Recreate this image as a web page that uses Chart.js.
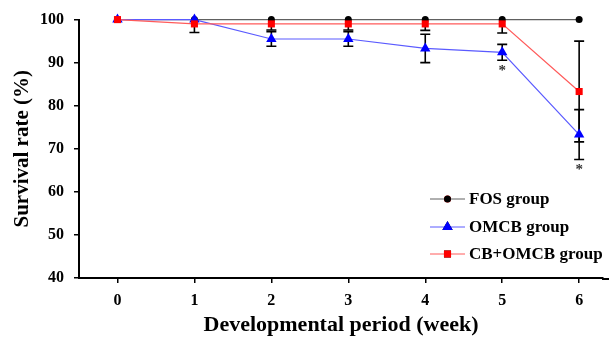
<!DOCTYPE html>
<html>
<head>
<meta charset="utf-8">
<script src="https://cdn.jsdelivr.net/npm/chart.js@4.4.1/dist/chart.umd.min.js"></script>
<style>
  html, body { margin: 0; padding: 0; background: #fff; }
  #wrap { width: 609px; height: 337px; position: relative; }
</style>
</head>
<body>
<div id="wrap"><canvas id="c"></canvas></div>
<script>
// weeks 0..6
var weeks = [0, 1, 2, 3, 4, 5, 6];
var fosVals = [100, 100, 100, 100, 100, 100, 100];
var omcbVals = [100, 100, 95.5, 95.5, 93.3, 92.4, 73.3];
var cbVals = [100, 99, 99, 99, 99, 99, 83.3];
// +/- error (same both ways)
var fosErr = [0, 0, 0, 0, 0, 0, 0];
var omcbErr = [0, 0, 1.7, 1.7, 3.3, 1.85, 5.8];
var cbErr = [0, 2, 1.4, 1.4, 1.5, 2.1, 11.7];
// significance marks, drawn under OMCB error bar
var sigWeeks = [5, 6];
var yTicks = [40, 50, 60, 70, 80, 90, 100];

var serif = "'Liberation Serif', 'DejaVu Serif', serif";

function pts(vals) {
  return weeks.map(function (w, i) { return { x: w, y: vals[i] }; });
}

var errBars = {
  id: "errBars",
  beforeDatasetsDraw: function (chart) {
    var ctx = chart.ctx, xs = chart.scales.x, ys = chart.scales.y;
    var a = chart.chartArea;
    ctx.save();
    ctx.beginPath();
    ctx.rect(a.left, a.top, a.right - a.left, a.bottom - a.top);
    ctx.clip();
    ctx.strokeStyle = "#000";
    ctx.lineWidth = 1.6;
    chart.data.datasets.forEach(function (ds) {
      ds.data.forEach(function (p, i) {
        var e = ds.err[i];
        if (!e) return;
        var x = xs.getPixelForValue(p.x);
        var y1 = ys.getPixelForValue(p.y + e);
        var y2 = ys.getPixelForValue(p.y - e);
        ctx.beginPath();
        ctx.moveTo(x, y1); ctx.lineTo(x, y2);
        ctx.moveTo(x - 5, y1); ctx.lineTo(x + 5, y1);
        ctx.moveTo(x - 5, y2); ctx.lineTo(x + 5, y2);
        ctx.stroke();
      });
    });
    ctx.restore();
  },
  afterDatasetsDraw: function (chart) {
    var ctx = chart.ctx, xs = chart.scales.x, ys = chart.scales.y;
    ctx.save();
    ctx.fillStyle = "#333";
    ctx.font = "bold 15px " + serif;
    ctx.textAlign = "center";
    ctx.textBaseline = "middle";
    sigWeeks.forEach(function (w) {
      var i = weeks.indexOf(w);
      var y = ys.getPixelForValue(omcbVals[i] - omcbErr[i]) + 11;
      ctx.fillText("*", xs.getPixelForValue(w), y);
    });
    ctx.restore();
  },
  afterDraw: function (chart) {
    // axis line runs off the right edge in the original
    var ctx = chart.ctx, a = chart.chartArea;
    ctx.save();
    ctx.strokeStyle = "#000";
    ctx.lineWidth = 2;
    ctx.beginPath();
    ctx.moveTo(a.right - 1, a.bottom + 1);
    ctx.lineTo(chart.width, a.bottom + 1);
    ctx.stroke();
    ctx.restore();
  }
};

var legendBox = {
  id: "legendBox",
  afterDraw: function (chart) {
    var ctx = chart.ctx;
    var x0 = 430, x1 = 465, tx = 469;
    var rows = [199, 227, 254];
    ctx.save();
    chart.data.datasets.forEach(function (ds, i) {
      var y = rows[i];
      ctx.strokeStyle = ds.borderColor;
      ctx.lineWidth = 1;
      ctx.beginPath();
      ctx.moveTo(x0, y); ctx.lineTo(x1, y);
      ctx.stroke();
      Chart.helpers.drawPoint(ctx, {
        pointStyle: ds.pointStyle,
        radius: ds.pointRadius,
        borderWidth: 0
      }, (x0 + x1) / 2, y);
      ctx.fillStyle = ds.pointBackgroundColor;
      ctx.fill();
      ctx.fillStyle = "#000";
      ctx.font = "bold 17px " + serif;
      ctx.textAlign = "left";
      ctx.textBaseline = "middle";
      ctx.fillText(ds.label, tx, y + 1);
    });
    ctx.restore();
  }
};

new Chart(document.getElementById("c"), {
  type: "line",
  data: {
    datasets: [
      {
        label: "FOS group",
        data: pts(fosVals),
        err: fosErr,
        borderColor: "#606060",
        borderWidth: 1.2,
        pointStyle: "circle",
        pointRadius: 3.5,
        pointBackgroundColor: "#000",
        pointBorderWidth: 0,
        order: 3
      },
      {
        label: "OMCB group",
        data: pts(omcbVals),
        err: omcbErr,
        borderColor: "#5a5aff",
        borderWidth: 1.2,
        pointStyle: "triangle",
        pointRadius: 6,
        pointBackgroundColor: "#0000ff",
        pointBorderWidth: 0,
        order: 2
      },
      {
        label: "CB+OMCB group",
        data: pts(cbVals),
        err: cbErr,
        borderColor: "#ff5a5a",
        borderWidth: 1.2,
        pointStyle: "rect",
        pointRadius: 5,
        pointBackgroundColor: "#ff0000",
        pointBorderWidth: 0,
        order: 1
      }
    ]
  },
  options: {
    responsive: true,
    maintainAspectRatio: false,
    animation: false,
    events: [],
    clip: false,
    layout: { padding: { top: 19, right: 0, left: 0, bottom: -2 } },
    plugins: { legend: { display: false }, tooltip: { enabled: false } },
    elements: { line: { tension: 0 } },
    scales: {
      x: {
        type: "linear",
        min: -0.5,
        max: 6.31,
        afterBuildTicks: function (s) {
          s.ticks = weeks.map(function (w) { return { value: w }; });
        },
        afterFit: function (s) { s.height = 61; },
        border: { color: "#000", width: 2 },
        grid: { drawOnChartArea: false, color: "#000", tickLength: 5, lineWidth: 1.5 },
        ticks: {
          color: "#000",
          padding: 8,
          maxRotation: 0,
          font: { family: serif, size: 16, weight: "bold" }
        },
        title: {
          display: true,
          text: "Developmental period (week)",
          color: "#000",
          padding: { top: 0, bottom: 0 },
          font: { family: serif, size: 22, weight: "bold" }
        }
      },
      y: {
        min: 40,
        max: 100,
        afterBuildTicks: function (s) {
          s.ticks = yTicks.map(function (v) { return { value: v }; });
        },
        afterFit: function (s) { s.width = 79; },
        border: { color: "#000", width: 2 },
        grid: { drawOnChartArea: false, color: "#000", tickLength: 5, lineWidth: 1.5 },
        ticks: {
          color: "#000",
          padding: 10,
          font: { family: serif, size: 16, weight: "bold" }
        },
        title: {
          display: true,
          text: "Survival rate (%)",
          color: "#000",
          padding: { top: 10, bottom: 0 },
          font: { family: serif, size: 21, weight: "bold" }
        }
      }
    }
  },
  plugins: [errBars, legendBox]
});
</script>
</body>
</html>
